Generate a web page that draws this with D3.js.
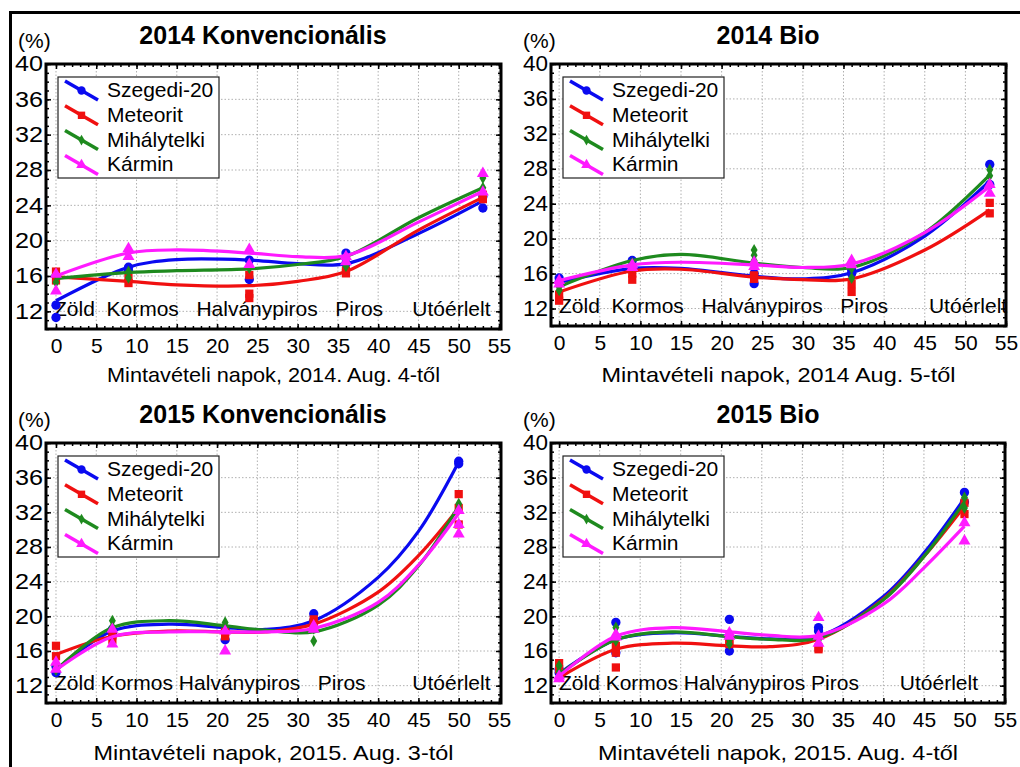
<!DOCTYPE html>
<meta charset="utf-8">
<style>
body { margin: 0; background: #fff; }
svg text { font-family: "Liberation Sans", Arial, sans-serif; fill: #000; }
.grid line { stroke: #b0b0b0; stroke-width: 1; stroke-dasharray: 1.5,2; }
.tk path { display: none; }
.tk line { stroke: #000; stroke-width: 1.5; }
.tk text { font-size: 21px; }
.ty text { font-size: 21.5px; }
</style>
<svg id="chart" width="1020" height="767"></svg>
<script src="https://cdn.jsdelivr.net/npm/d3@7"></script>
<script>

// ---- data ----
var varieties = ['Szegedi-20', 'Meteorit', 'Mihálytelki', 'Kármin']
var titles = ['2014 Konvencionális', '2014 Bio', '2015 Konvencionális', '2015 Bio']
var xTitles = ['Mintavételi napok, 2014. Aug. 4-től', 'Mintavételi napok, 2014 Aug. 5-től',
               'Mintavételi napok, 2015. Aug. 3-tól', 'Mintavételi napok, 2015. Aug. 4-től']
var stageRows = ['Zöld  Kormos   Halványpiros   Piros     Utóérlelt',
                 'Zöld  Kormos   Halványpiros   Piros       Utóérlelt',
                 'Zöld Kormos Halványpiros   Piros        Utóérlelt',
                 'Zöld Kormos Halványpiros Piros       Utóérlelt']
var yTicks = [12, 16, 20, 24, 28, 32, 36, 40]
var xTicks = [0, 5, 10, 15, 20, 25, 30, 35, 40, 45, 50, 55]

// fitted curve, sampled at these days
var fitDays14 = [0, 9, 15, 24, 30, 36, 45, 53]
var fitDays15 = [0, 7, 14, 21, 26, 32, 40, 45, 50]

var fit14Konv = [
  [13.2, 17.0, 17.85, 17.8, 17.4, 17.4, 20.8, 24.5],
  [15.9, 15.4, 15.0, 14.9, 15.4, 16.5, 21.2, 24.9],
  [15.7, 16.4, 16.6, 16.8, 17.3, 18.2, 22.6, 26.0],
  [16.0, 18.6, 18.95, 18.6, 18.2, 18.3, 22.1, 25.6]
]
var fit14Bio = [
  [15.0, 16.6, 16.6, 15.7, 15.4, 16.1, 20.3, 26.6],
  [13.9, 16.3, 16.5, 15.6, 15.3, 15.4, 18.7, 23.3],
  [14.5, 17.5, 18.2, 17.2, 16.7, 16.7, 20.7, 27.3],
  [15.2, 17.0, 17.3, 17.0, 16.7, 17.1, 20.7, 26.0]
]
var fit15Konv = [
  [13.8, 18.3, 19.1, 18.7, 18.5, 19.5, 24.5, 29.8, 37.8],
  [15.6, 17.7, 18.3, 18.2, 18.2, 19.1, 22.8, 27.0, 32.5],
  [13.8, 18.7, 19.5, 18.9, 18.4, 18.2, 21.3, 25.8, 32.7],
  [13.8, 17.65, 18.2, 18.2, 18.2, 18.6, 21.6, 25.9, 31.9]
]
var fit15Bio = [
  [13.4, 17.3, 18.1, 17.7, 17.4, 17.7, 22.3, 27.3, 33.6],
  [12.9, 16.2, 16.9, 16.6, 16.5, 17.35, 22.0, 26.9, 32.7],
  [13.3, 17.3, 18.2, 17.65, 17.35, 17.5, 21.9, 26.9, 33.2],
  [13.1, 17.7, 18.7, 18.2, 17.8, 17.8, 21.4, 25.6, 30.4]
]

// measured values [day, %]
var pts14Konv = [
  [[0,12.7],[0,11.3],[0,16.0],[9,17.0],[9,16.6],[24,17.8],[24,15.6],[36,18.6],[36,17.4],[53,23.7],[53,25.0]],
  [[0,16.5],[0,15.5],[9,15.2],[9,15.8],[24,16.1],[24,14.0],[24,13.5],[36,16.3],[36,16.6],[53,24.7],[53,25.2]],
  [[0,15.3],[0,16.2],[9,16.5],[9,15.8],[24,16.9],[24,17.3],[36,17.1],[36,18.0],[53,27.1],[53,26.0]],
  [[0,16.2],[0,14.3],[9,19.1],[9,18.2],[24,19.0],[24,17.3],[36,18.2],[36,17.6],[53,27.6],[53,25.5]]
]
var pts14Bio = [
  [[0,15.5],[0,15.0],[9,17.5],[9,16.8],[24,14.85],[24,16.0],[36,16.0],[36,16.4],[53,28.5],[53,26.2]],
  [[0,12.9],[0,13.6],[9,16.0],[9,15.3],[24,15.8],[24,15.4],[36,14.8],[36,13.9],[53,24.1],[53,22.9]],
  [[0,14.5],[0,14.1],[9,17.2],[9,16.9],[24,18.7],[24,18.1],[24,17.5],[36,15.5],[36,16.6],[53,27.9],[53,27.2]],
  [[0,15.2],[0,14.8],[9,17.0],[9,16.7],[24,17.3],[24,16.8],[36,17.5],[36,17.0],[53,26.2],[53,25.2]]
]
var pts15Konv = [
  [[0,13.5],[0,14.2],[7,18.5],[7,18.0],[21,17.3],[21,18.3],[32,20.3],[32,19.5],[50,37.9],[50,37.6]],
  [[0,16.6],[0,15.4],[7,17.3],[7,17.8],[21,17.7],[21,18.2],[32,19.65],[32,19.3],[50,34.1],[50,32.5],[50,30.6]],
  [[0,14.3],[0,13.8],[7,19.5],[7,18.8],[21,19.3],[21,18.8],[32,17.15],[32,18.6],[50,33.0],[50,32.5]],
  [[0,14.7],[0,13.9],[7,18.5],[7,16.8],[21,16.0],[21,18.3],[32,18.9],[32,18.5],[50,32.2],[50,30.6],[50,29.5]]
]
var pts15Bio = [
  [[0,13.5],[0,13.9],[7,19.3],[7,15.8],[21,19.65],[21,16.0],[32,18.7],[32,18.3],[50,34.3],[50,33.2]],
  [[0,14.6],[0,13.9],[7,16.6],[7,15.8],[7,14.1],[21,16.8],[21,17.2],[32,16.4],[32,16.2],[50,33.1],[50,31.8]],
  [[0,14.3],[0,13.6],[7,18.7],[7,17.2],[21,17.3],[21,16.8],[32,17.6],[32,17.3],[50,33.7],[50,32.5]],
  [[0,13.1],[0,12.8],[7,17.9],[7,17.6],[21,17.7],[21,18.1],[32,19.85],[32,17.7],[32,16.9],[50,30.8],[50,28.7]]
]

// ---- styles / layout ----
var colors = ['#0a0af0', '#f01010', '#1e8a1e', '#ff1aff']
var symbols = [d3.symbolCircle, d3.symbolSquare, d3.symbolDiamond, d3.symbolTriangle]
var symSize = [68, 68, 42, 62]

var panels = [
  {l: 46,  t: 64,  r: 501,  b: 329, x0: -1.24, x1: 55.25, fitDays: fitDays14, fit: fit14Konv, pts: pts14Konv, xtY: 382, xtW: 333, ytW: 28},
  {l: 551, t: 64,  r: 1006, b: 326, x0: -1.0,  x1: 55.0,  fitDays: fitDays14, fit: fit14Bio,  pts: pts14Bio,  xtY: 382, xtW: 354, ytW: 25},
  {l: 46,  t: 443, r: 501,  b: 703, x0: -1.24, x1: 55.25, fitDays: fitDays15, fit: fit15Konv, pts: pts15Konv, xtY: 760, xtW: 360, ytW: 28},
  {l: 551, t: 443, r: 1005, b: 703, x0: -1.0,  x1: 55.0,  fitDays: fitDays15, fit: fit15Bio,  pts: pts15Bio,  xtY: 760, xtW: 360, ytW: 25}
]

var svg = d3.select('#chart')

// outer frame of the whole figure
svg.append('rect')
    .attr('x', 10.5).attr('y', 12.5)
    .attr('width', 1015).attr('height', 765)
    .attr('fill', 'none').attr('stroke', '#000').attr('stroke-width', 3)

panels.forEach(function (p, pi) {
    var w = p.r - p.l, h = p.b - p.t
    var x = d3.scaleLinear().domain([p.x0, p.x1]).range([0, w])
    var y = d3.scaleLinear().domain([10, 40]).range([h, 0])

    var g = svg.append('g').attr('transform', 'translate(' + p.l + ',' + p.t + ')')

    // grid
    var grid = g.append('g').attr('class', 'grid')
    grid.selectAll('.gx').data(xTicks).enter().append('line')
        .attr('x1', d => x(d)).attr('x2', d => x(d)).attr('y1', 0).attr('y2', h)
    grid.selectAll('.gy').data(yTicks).enter().append('line')
        .attr('x1', 0).attr('x2', w).attr('y1', d => y(d)).attr('y2', d => y(d))

    // ticks on all four sides, pointing inward
    var minorX = d3.range(0, 56, 1), minorY = d3.range(10, 41, 1)
    g.append('g').attr('class', 'tk').attr('transform', 'translate(0,' + h + ')')
        .call(d3.axisBottom(x).tickValues(xTicks).tickSize(-5).tickPadding(9).tickFormat(d3.format('d')))
    g.append('g').attr('class', 'tk').attr('transform', 'translate(0,' + h + ')')
        .call(d3.axisBottom(x).tickValues(minorX).tickSize(-3).tickFormat(''))
    g.append('g').attr('class', 'tk')
        .call(d3.axisTop(x).tickValues(xTicks).tickSize(-5).tickFormat(''))
    g.append('g').attr('class', 'tk')
        .call(d3.axisTop(x).tickValues(minorX).tickSize(-3).tickFormat(''))
    g.append('g').attr('class', 'tk ty')
        .call(d3.axisLeft(y).tickValues(yTicks).tickSize(-5).tickPadding(3).tickFormat(d3.format('d')))
        .selectAll('text').attr('textLength', p.ytW).attr('lengthAdjust', 'spacingAndGlyphs')
    g.append('g').attr('class', 'tk')
        .call(d3.axisLeft(y).tickValues(minorY).tickSize(-3).tickFormat(''))
    g.append('g').attr('class', 'tk').attr('transform', 'translate(' + w + ',0)')
        .call(d3.axisRight(y).tickValues(yTicks).tickSize(-5).tickFormat(''))
    g.append('g').attr('class', 'tk').attr('transform', 'translate(' + w + ',0)')
        .call(d3.axisRight(y).tickValues(minorY).tickSize(-3).tickFormat(''))

    // stage names along the bottom of the plot
    g.append('text')
        .attr('x', 8).attr('y', h - 13)
        .attr('font-size', '21px')
        .style('white-space', 'pre')
        .text(stageRows[pi])

    // series: points then fitted curve
    var line = d3.line().curve(d3.curveCatmullRom.alpha(0.5))
        .x((d, i) => x(p.fitDays[i])).y(d => y(d))

    varieties.forEach(function (v, si) {
        g.append('g').selectAll('path').data(p.pts[si]).enter().append('path')
            .attr('transform', d => 'translate(' + x(d[0]) + ',' + y(d[1]) + ')')
            .attr('d', d3.symbol().type(symbols[si]).size(symSize[si]))
            .attr('fill', colors[si])
        g.append('path')
            .datum(p.fit[si])
            .attr('d', line)
            .attr('fill', 'none')
            .attr('stroke', colors[si])
            .attr('stroke-width', 3.2)
    })

    // plot frame
    g.append('rect').attr('width', w).attr('height', h)
        .attr('fill', 'none').attr('stroke', '#000').attr('stroke-width', 3)

    // legend
    var lg = g.append('g').attr('transform', 'translate(12,13)')
    lg.append('rect').attr('width', 161).attr('height', 101)
        .attr('fill', '#fff').attr('stroke', '#222').attr('stroke-width', 1.2)
    varieties.forEach(function (v, si) {
        var row = lg.append('g').attr('transform', 'translate(0,' + (20 + si * 24.8) + ')')
        row.append('line')
            .attr('x1', 7).attr('y1', -16).attr('x2', 40).attr('y2', 3)
            .attr('stroke', colors[si]).attr('stroke-width', 3.5)
        row.append('path')
            .attr('transform', 'translate(23.5,-6.5)')
            .attr('d', d3.symbol().type(symbols[si]).size(symSize[si] * 0.8))
            .attr('fill', colors[si])
        row.append('text').attr('x', 49).attr('font-size', '21px').text(v)
    })

    // titles
    svg.append('text')
        .attr('x', p.l + 217).attr('y', p.t - 20)
        .attr('text-anchor', 'middle').attr('font-size', '25px').attr('font-weight', 'bold')
        .text(titles[pi])
    svg.append('text')
        .attr('x', p.l - 28).attr('y', p.t - 16)
        .attr('font-size', '21px')
        .text('(%)')
    svg.append('text')
        .attr('x', (p.l + p.r) / 2).attr('y', p.xtY)
        .attr('text-anchor', 'middle').attr('font-size', '21px')
        .attr('textLength', p.xtW).attr('lengthAdjust', 'spacingAndGlyphs')
        .text(xTitles[pi])
})

</script>
